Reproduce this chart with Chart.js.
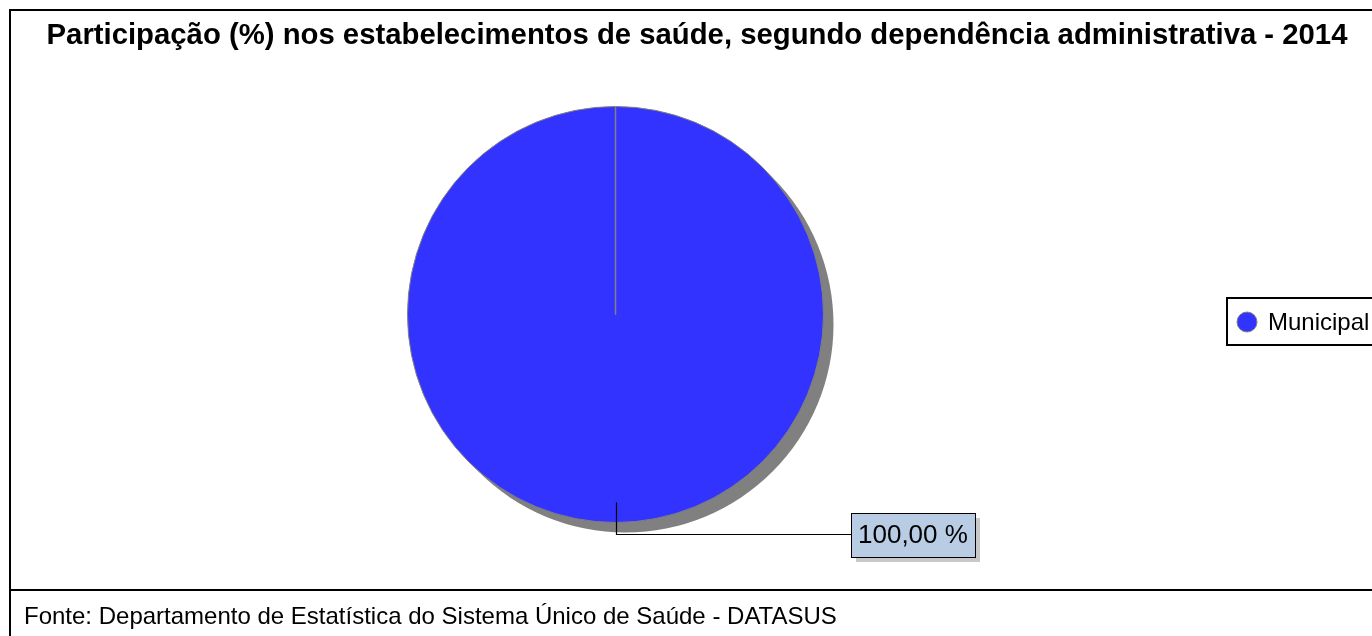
<!DOCTYPE html>
<html>
<head>
<meta charset="utf-8">
<script src="https://cdn.jsdelivr.net/npm/chart.js@4/dist/chart.umd.min.js"></script>
<style>
  html, body { margin: 0; padding: 0; background: #ffffff; }
  #wrap { position: relative; width: 1372px; height: 636px; }
  canvas { display: block; }
</style>
</head>
<body>
<div id="wrap"><canvas id="c" width="1372" height="636"></canvas></div>
<script>
const titleText = 'Participação (%) nos estabelecimentos de saúde, segundo dependência administrativa - 2014';
const sourceText = 'Fonte: Departamento de Estatística do Sistema Único de Saúde - DATASUS';
const categories = ['Municipal'];
const shares = [100.00];
const sliceColors = ['#3333ff'];

const FONT = '"Liberation Sans", Arial, Helvetica, sans-serif';

function fmtPct(v) {
  return v.toFixed(2).replace('.', ',') + ' %';
}

const decorPlugin = {
  id: 'decor',
  beforeDraw(chart) {
    const ctx = chart.ctx;
    ctx.save();
    ctx.fillStyle = '#ffffff';
    ctx.fillRect(0, 0, chart.width, chart.height);
    // frame
    ctx.strokeStyle = '#000000';
    ctx.lineWidth = 2;
    ctx.beginPath();
    ctx.moveTo(9, 10); ctx.lineTo(chart.width + 2, 10);
    ctx.moveTo(10, 10); ctx.lineTo(10, chart.height + 2);
    ctx.moveTo(9, 590); ctx.lineTo(chart.width + 2, 590);
    ctx.stroke();
    // title
    ctx.fillStyle = '#000000';
    ctx.font = 'bold 29.3px ' + FONT;
    ctx.textAlign = 'center';
    ctx.textBaseline = 'middle';
    ctx.fillText(titleText, 697, 36);
    // footer
    ctx.font = '24px ' + FONT;
    ctx.textAlign = 'left';
    ctx.fillText(sourceText, 24, 617);
    ctx.restore();
  },
  beforeDatasetsDraw(chart) {
    // shadow behind the pie
    const ctx = chart.ctx;
    const arcs = chart.getDatasetMeta(0).data;
    if (!arcs.length) return;
    const a = arcs[0];
    ctx.save();
    ctx.fillStyle = '#808080';
    ctx.beginPath();
    ctx.arc(a.x + 10, a.y + 10, a.outerRadius, 0, Math.PI * 2);
    ctx.fill();
    ctx.restore();
  },
  afterDatasetsDraw(chart) {
    const ctx = chart.ctx;
    const meta = chart.getDatasetMeta(0);
    ctx.save();
    meta.data.forEach((a, i) => {
      // radial seam line (slice start)
      ctx.strokeStyle = '#808080';
      ctx.lineWidth = 1.5;
      ctx.beginPath();
      ctx.moveTo(a.x, a.y);
      ctx.lineTo(a.x + a.outerRadius * Math.cos(a.startAngle), a.y + a.outerRadius * Math.sin(a.startAngle));
      ctx.stroke();
      // leader line
      const mid = (a.startAngle + a.endAngle) / 2;
      const px = a.x + (a.outerRadius - 20) * Math.cos(mid);
      const py = a.y + (a.outerRadius - 20) * Math.sin(mid);
      const ey = a.y + (a.outerRadius + 11) * Math.sin(mid);
      const bx = 851;
      ctx.strokeStyle = '#000000';
      ctx.lineWidth = 1.2;
      ctx.beginPath();
      ctx.moveTo(Math.round(px) + 0.5, py);
      ctx.lineTo(Math.round(px) + 0.5, Math.round(ey) + 0.5);
      ctx.lineTo(bx, Math.round(ey) + 0.5);
      ctx.stroke();
      // label box
      const label = fmtPct(shares[i]);
      ctx.font = '26px ' + FONT;
      const tw = ctx.measureText(label).width;
      const bw = Math.round(tw + 14), bh = 44;
      const by = Math.round(ey) - 21;
      ctx.fillStyle = '#c8c8c8';
      ctx.fillRect(bx + 5, by + 5, bw, bh);
      ctx.fillStyle = '#b8cce4';
      ctx.fillRect(bx, by, bw, bh);
      ctx.strokeStyle = '#000000';
      ctx.lineWidth = 1;
      ctx.strokeRect(bx + 0.5, by + 0.5, bw, bh);
      ctx.fillStyle = '#000000';
      ctx.textAlign = 'left';
      ctx.textBaseline = 'middle';
      ctx.fillText(label, bx + 7, by + bh / 2 + 1);
    });
    // legend
    const lx = 1226, ly = 297, lh = 49;
    ctx.strokeStyle = '#000000';
    ctx.lineWidth = 2;
    ctx.strokeRect(lx + 1, ly + 1, chart.width - lx + 4, lh - 2);
    categories.forEach((cat, i) => {
      const cy = ly + 25 + i * 30;
      ctx.fillStyle = sliceColors[i];
      ctx.strokeStyle = '#808080';
      ctx.lineWidth = 1;
      ctx.beginPath();
      ctx.arc(1247, cy, 10, 0, Math.PI * 2);
      ctx.fill();
      ctx.stroke();
      ctx.fillStyle = '#000000';
      ctx.font = '24px ' + FONT;
      ctx.textAlign = 'left';
      ctx.textBaseline = 'middle';
      ctx.fillText(cat, 1268, cy + 1);
    });
    ctx.restore();
  }
};

new Chart(document.getElementById('c'), {
  type: 'pie',
  data: {
    labels: categories,
    datasets: [{
      data: shares,
      backgroundColor: sliceColors,
      borderColor: '#808080',
      borderWidth: 1
    }]
  },
  options: {
    responsive: false,
    animation: false,
    events: [],
    layout: { padding: { left: 407, right: 548, top: 105, bottom: 112 } },
    plugins: {
      legend: { display: false },
      title: { display: false },
      tooltip: { enabled: false }
    }
  },
  plugins: [decorPlugin]
});
</script>
</body>
</html>
